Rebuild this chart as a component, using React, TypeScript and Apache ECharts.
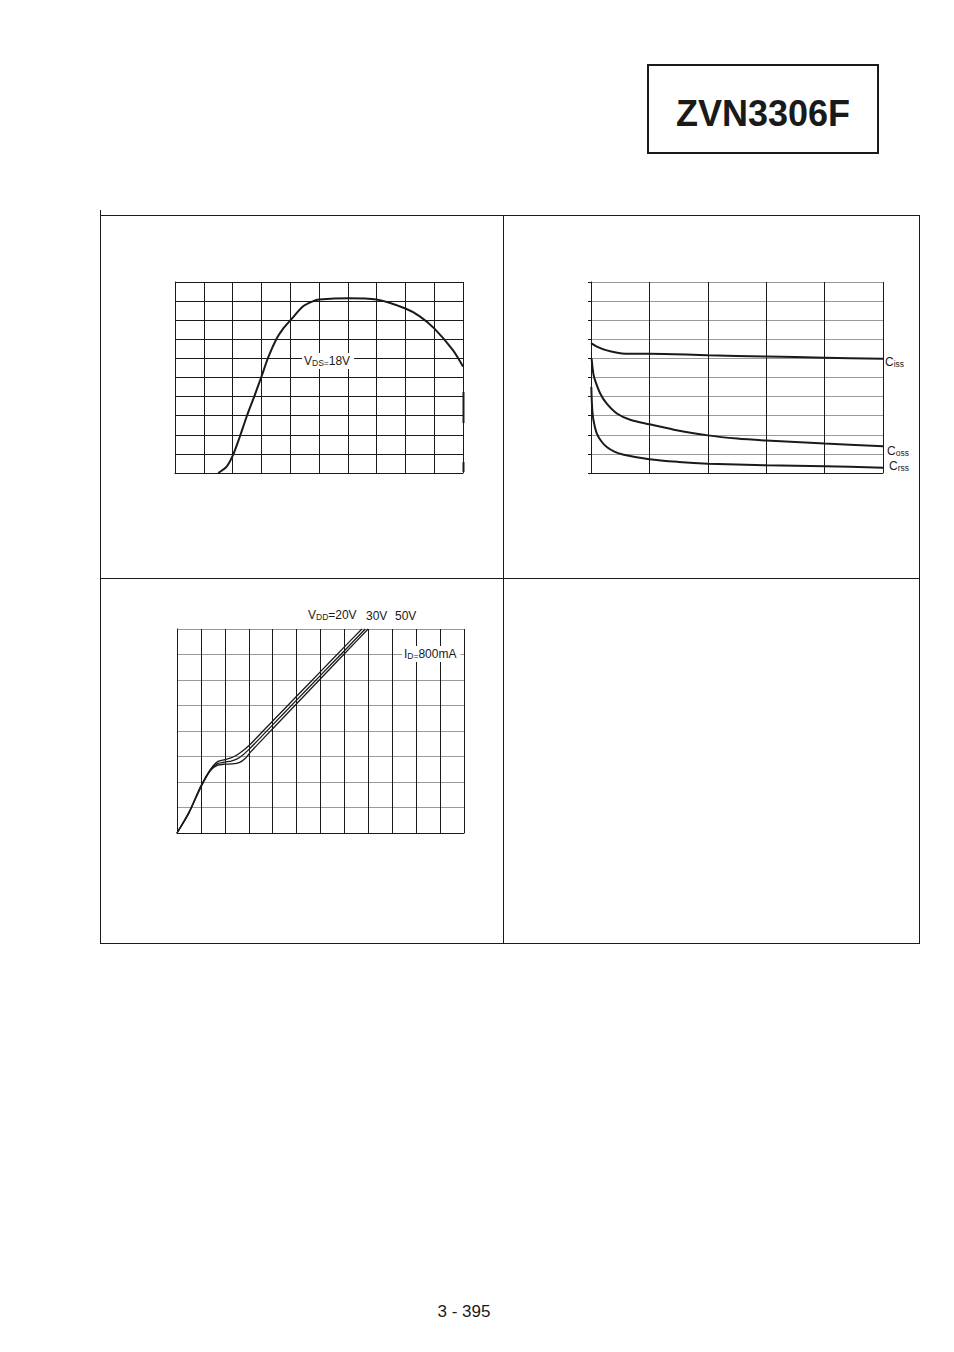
import React, { useEffect, useRef } from "react";
import * as echarts from "echarts";

// Chart 1 – single curve (VDS = 18V)
const gfsCurve: number[][] = [
  [1.5, 0], [1.8, 0.35], [2.02, 0.96], [2.25, 1.9], [2.49, 2.96], [2.75, 4.0],
  [3.0, 5.04], [3.25, 6.1], [3.53, 7.04], [3.75, 7.55], [4.01, 8.0], [4.45, 8.73],
  [4.8, 9.0], [5.0, 9.08], [6.0, 9.15], [7.0, 9.08], [8.0, 8.61], [8.5, 8.2],
  [9.0, 7.57], [9.65, 6.43], [10, 5.57],
];

// Chart 2 – capacitances
const ciss: number[][] = [
  [0, 6.8], [0.1, 6.62], [0.27, 6.42], [0.45, 6.3], [0.59, 6.25], [1, 6.25],
  [2, 6.16], [3, 6.1], [4, 6.04], [5, 5.98],
];
const coss: number[][] = [
  [0.01, 6.0], [0.04, 5.2], [0.07, 4.85], [0.16, 4.15], [0.27, 3.63], [0.45, 3.1],
  [0.67, 2.79], [1, 2.55], [1.42, 2.27], [2, 1.97], [2.5, 1.8], [3, 1.7], [4, 1.54], [5, 1.4],
];
const crss: number[][] = [
  [0.005, 4.5], [0.02, 3.4], [0.04, 2.8], [0.1, 2.06], [0.18, 1.65], [0.27, 1.36],
  [0.4, 1.12], [0.56, 0.96], [1, 0.72], [1.5, 0.58], [2, 0.49], [3, 0.4], [4, 0.35], [5, 0.28],
];

// Chart 3 – gate charge curves
const vdd20: number[][] = [
  [0, 0], [0.5, 0.82], [1, 1.85], [1.4, 2.5], [1.7, 2.8], [2, 2.88], [2.3, 2.96],
  [2.6, 3.12], [3, 3.42], [4, 4.39], [5, 5.36], [6, 6.33], [7, 7.3], [7.73, 8],
];
const vdd30: number[][] = [
  [0, 0], [0.5, 0.8], [1, 1.83], [1.4, 2.48], [1.7, 2.72], [2, 2.78], [2.3, 2.83],
  [2.6, 2.95], [3, 3.27], [4, 4.24], [5, 5.21], [6, 6.18], [7, 7.15], [7.87, 8],
];
const vdd50: number[][] = [
  [0, 0], [0.5, 0.78], [1, 1.8], [1.4, 2.45], [1.7, 2.66], [2, 2.7], [2.3, 2.71],
  [2.6, 2.76], [2.85, 2.92], [3.1, 3.2], [4, 4.09], [5, 5.07], [6, 6.05], [7, 7.03], [7.99, 8],
];

const FONT = "Liberation Sans, Arial, sans-serif";
const INK = "#1a1a1a";

function axis(gridIndex: number, max: number, splitColor: string, extra: any = {}) {
  return {
    type: "value",
    gridIndex,
    min: 0,
    max,
    interval: 1,
    axisLabel: { show: false },
    axisTick: { show: false },
    axisLine: { show: true, lineStyle: { color: INK, width: 1 } },
    splitLine: { show: true, lineStyle: { color: splitColor, width: 1 } },
    ...extra,
  };
}

function curve(idx: number, data: number[][], width: number, smooth: number) {
  return {
    type: "line",
    xAxisIndex: idx,
    yAxisIndex: idx,
    data,
    showSymbol: false,
    symbol: "none",
    smooth,
    lineStyle: { color: INK, width },
    silent: true,
  };
}

function sub(x: number, y: number, rich: string, bg = false) {
  return {
    type: "text",
    x,
    y,
    z: 50,
    style: {
      text: rich,
      fill: INK,
      font: `12px ${FONT}`,
      verticalAlign: "middle",
      backgroundColor: bg ? "#fff" : undefined,
      padding: bg ? [2, 4, 2, 2] : 0,
      rich: {
        m: { fontSize: 12, fontFamily: FONT, fill: INK },
        s: { fontSize: 8.5, fontFamily: FONT, fill: INK, verticalAlign: "bottom" },
      },
    },
  };
}

function frameLine(x1: number, y1: number, x2: number, y2: number, w = 1) {
  return { type: "line", shape: { x1, y1, x2, y2 }, style: { stroke: INK, lineWidth: w }, z: 40 };
}

export default function App() {
  const ref = useRef<HTMLDivElement>(null);
  useEffect(() => {
    if (!ref.current) return;
    const chart = echarts.init(ref.current, undefined, { renderer: "svg" });
    const option: any = {
      animation: false,
      backgroundColor: "#fff",
      grid: [
        { left: 175, top: 282, width: 288, height: 191 },
        { left: 591, top: 282, width: 292, height: 191 },
        { left: 177, top: 629, width: 287, height: 204 },
      ],
      xAxis: [
        axis(0, 10, INK),
        axis(1, 5, INK),
        axis(2, 12, INK),
      ],
      yAxis: [
        axis(0, 10, INK),
        axis(1, 10, "#9a9a9a", { axisTick: { show: true, length: 3, lineStyle: { color: INK } } }),
        axis(2, 8, "#9a9a9a"),
      ],
      series: [
        curve(0, gfsCurve, 2, 0.3),
        curve(1, ciss, 2, 0.3),
        curve(1, coss, 2, 0.3),
        curve(1, crss, 2, 0.3),
        curve(2, vdd20, 1.3, 0.25),
        curve(2, vdd30, 1.3, 0.25),
        curve(2, vdd50, 1.3, 0.25),
      ],
      graphic: [
        // title box
        {
          type: "rect",
          shape: { x: 648, y: 65, width: 230, height: 88 },
          style: { fill: "none", stroke: INK, lineWidth: 2 },
        },
        {
          type: "text",
          x: 763,
          y: 113,
          style: {
            text: "ZVN3306F",
            font: `bold 36px ${FONT}`,
            fill: INK,
            align: "center",
            verticalAlign: "middle",
          },
        },
        // frame
        frameLine(100.5, 210, 100.5, 944),
        frameLine(100, 215.5, 920, 215.5),
        frameLine(919.5, 215, 919.5, 944),
        frameLine(100, 943.5, 920, 943.5),
        frameLine(503.5, 215, 503.5, 944),
        frameLine(100, 578.5, 920, 578.5),
        // scan artefacts on chart 1 right edge
        frameLine(463.5, 392, 463.5, 423, 2),
        frameLine(463.5, 462, 463.5, 472, 2),
        // chart 1 label
        sub(302, 361, "{m|V}{s|DS}{s|=}{m|18V}", true),
        // chart 2 labels
        sub(885, 362, "{m|C}{s|iss}"),
        sub(887, 451, "{m|C}{s|oss}"),
        sub(889, 466, "{m|C}{s|rss}"),
        // chart 3 labels
        sub(308, 615, "{m|V}{s|DD}{m|=20V}"),
        sub(366, 616, "{m|30V}"),
        sub(395, 616, "{m|50V}"),
        sub(402, 654, "{m|I}{s|D}{s|=}{m|800mA}", true),
        // page number
        {
          type: "text",
          x: 464,
          y: 1311,
          style: {
            text: "3 - 395",
            font: `17px ${FONT}`,
            fill: INK,
            align: "center",
            verticalAlign: "middle",
          },
        },
      ],
    };
    chart.setOption(option);
    return () => chart.dispose();
  }, []);
  return (
    <div
      ref={ref}
      style={{ position: "absolute", left: 0, top: 0, width: 954, height: 1352, background: "#fff" }}
    />
  );
}
